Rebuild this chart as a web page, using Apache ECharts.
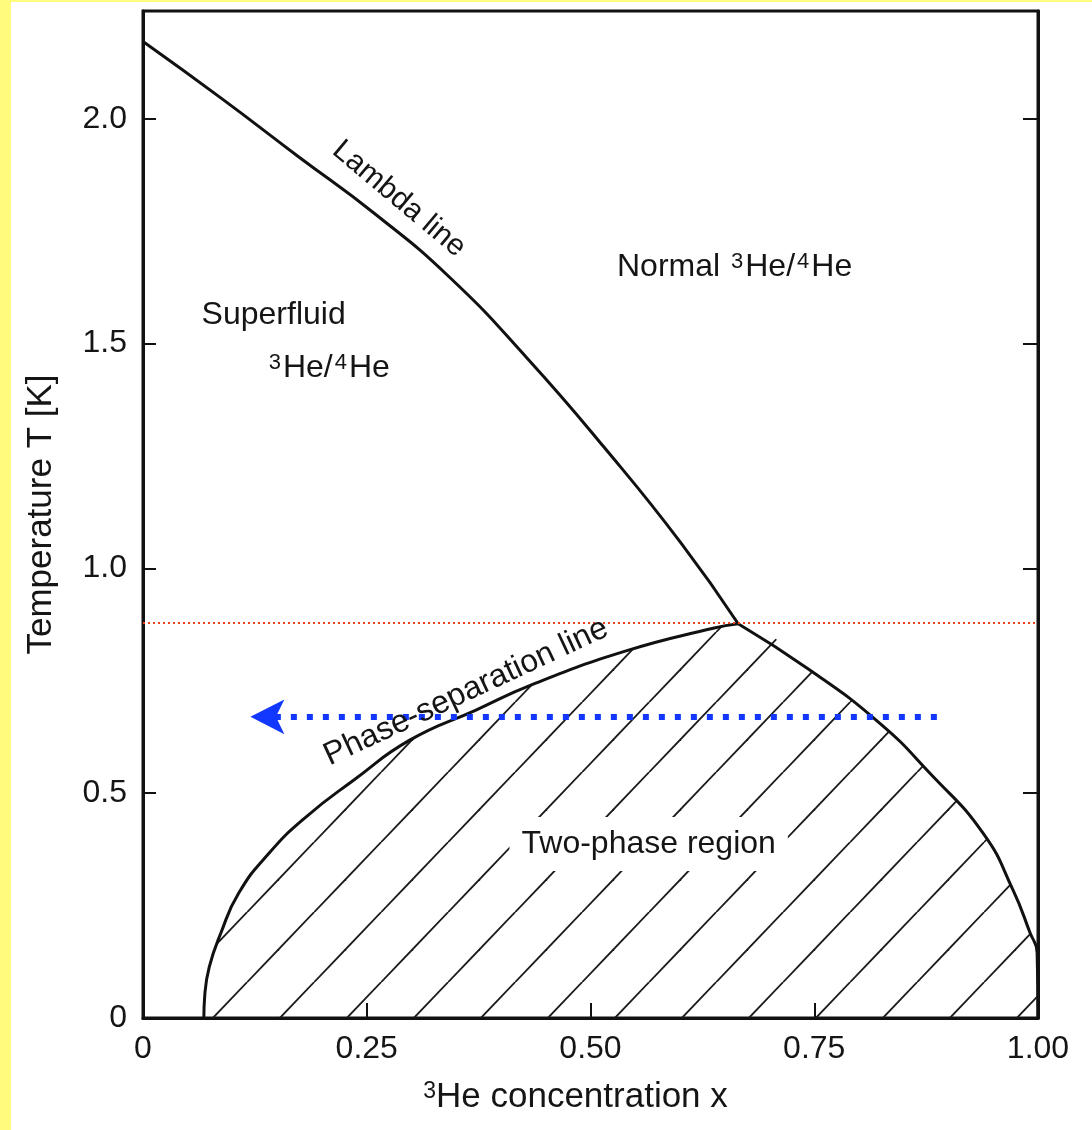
<!DOCTYPE html>
<html>
<head>
<meta charset="utf-8">
<script src="https://cdn.jsdelivr.net/npm/echarts@6/dist/echarts.min.js"></script>
<style>
html, body { margin: 0; padding: 0; width: 1092px; height: 1130px; overflow: hidden; background: #fffb7c; }
#chart { position: absolute; left: 11px; top: 2px; width: 1081px; height: 1128px; background: #fff; }
</style>
</head>
<body>
<div id="chart"></div>
<script>
// lambda line (x = 3He fraction, T in K)
const lambdaX = [0, 0.088, 0.173, 0.259, 0.344, 0.43, 0.515, 0.601, 0.665];
const lambdaT = [2.172, 2.045, 1.917, 1.789, 1.645, 1.466, 1.27, 1.057, 0.877];

// phase-separation line, dilute side and concentrated side
const sepLeftX = [0.068, 0.069, 0.074, 0.087, 0.107, 0.141, 0.182, 0.236, 0.298, 0.372, 0.434, 0.537, 0.637, 0.665];
const sepLeftT = [0, 0.05, 0.113, 0.189, 0.278, 0.367, 0.447, 0.53, 0.618, 0.685, 0.741, 0.815, 0.867, 0.877];
const sepRightX = [0.665, 0.745, 0.823, 0.879, 0.939, 0.972, 0.991, 0.999, 1.0];
const sepRightT = [0.877, 0.774, 0.656, 0.545, 0.41, 0.285, 0.19, 0.145, 0];

const xTickLabels = ['0', '0.25', '0.50', '0.75', '1.00'];
const yTickLabels = ['0', '0.5', '1.0', '1.5', '2.0'];

// annotations
const noteText = ['Lambda line', 'Normal {sup|3}He/{sup|4}He', 'Superfluid', '{sup|3}He/{sup|4}He', 'Phase-separation line', 'Two-phase region'];
const noteX = [0.286, 0.661, 0.146, 0.207, 0.361, 0.565];
const noteT = [1.822, 1.671, 1.564, 1.445, 0.725, 0.387];
const noteAngle = [-40, 0, 0, 0, 25, 0];

const tricriticalT = 0.877;      // red dotted line
const arrowT = 0.67;             // blue arrow
const arrowFromX = 0.887;
const arrowToX = 0.12;

const hatchStartX = 0.078;       // first hatch line meeting the x axis

const font = '"Liberation Sans", Arial, Helvetica, sans-serif';
const ink = '#111';
const textInk = '#151515';

const pairs = (xs, ys) => xs.map((x, i) => [x, ys[i]]);

function hatchPattern(offset) {
    const w = 67, h = 70;
    const c = document.createElement('canvas');
    c.width = w;
    c.height = h;
    const g = c.getContext('2d');
    g.strokeStyle = '#1a1a1a';
    g.lineWidth = 1.8;
    for (let k = -2; k <= 1; k++) {
        g.beginPath();
        g.moveTo(offset + k * w, h);
        g.lineTo(offset + (k + 1) * w, 0);
        g.stroke();
    }
    return { image: c, repeat: 'repeat' };
}

const chart = echarts.init(document.getElementById('chart'));

const option = {
    animation: false,
    backgroundColor: '#fff',
    grid: {
        left: 132, right: 54, top: 9, bottom: 112,
        show: true, borderColor: ink, borderWidth: 3, backgroundColor: 'transparent',
        outerBoundsMode: 'none'
    },
    xAxis: {
        type: 'value', min: 0, max: 1, interval: 0.25,
        name: '{sup|3}He concentration x',
        nameLocation: 'middle', nameGap: 62,
        nameTextStyle: {
            fontFamily: font, fontSize: 35, color: textInk, padding: [0, 30, 0, 0],
            rich: { sup: { fontSize: 23, verticalAlign: 'top', fontFamily: font, color: textInk } }
        },
        axisLine: { show: true, lineStyle: { color: ink, width: 3 } },
        axisTick: { show: true, inside: true, length: 15, lineStyle: { color: ink, width: 2 } },
        axisLabel: {
            margin: 15, fontFamily: font, fontSize: 32, color: textInk,
            formatter: v => xTickLabels[Math.round(v / 0.25)] ?? ''
        },
        splitLine: { show: false }
    },
    yAxis: [{
        type: 'value', min: 0, max: 2.24, interval: 0.5,
        name: 'Temperature T [K]',
        nameLocation: 'middle', nameGap: 84,
        nameTextStyle: { fontFamily: font, fontSize: 35, color: textInk },
        axisLine: { show: true, lineStyle: { color: ink, width: 3 } },
        axisTick: { show: true, inside: true, length: 13, lineStyle: { color: ink, width: 2 } },
        axisLabel: {
            margin: 16, fontFamily: font, fontSize: 32, color: textInk,
            formatter: v => (Math.abs(v / 0.5 - Math.round(v / 0.5)) < 1e-6 ? yTickLabels[Math.round(v / 0.5)] : '')
        },
        splitLine: { show: false }
    }, {
        type: 'value', min: 0, max: 2.24, interval: 0.5, position: 'right',
        axisLine: { show: true, lineStyle: { color: ink, width: 3 } },
        axisTick: { show: true, inside: true, length: 15, lineStyle: { color: ink, width: 2 } },
        axisLabel: { show: false },
        splitLine: { show: false }
    }],
    series: [
        {
            id: 'fill', type: 'line', silent: true, z: 1,
            data: pairs(sepLeftX.concat(sepRightX.slice(1)), sepLeftT.concat(sepRightT.slice(1))),
            showSymbol: false, smooth: 0.5,
            lineStyle: { width: 0, opacity: 0 },
            areaStyle: { color: 'transparent', opacity: 1 }
        },
        {
            type: 'line', silent: true, z: 3,
            data: pairs(lambdaX, lambdaT),
            showSymbol: false, smooth: 0.5,
            lineStyle: { color: ink, width: 3 }
        },
        {
            type: 'line', silent: true, z: 3,
            data: pairs(sepLeftX, sepLeftT),
            showSymbol: false, smooth: 0.5,
            lineStyle: { color: ink, width: 3 }
        },
        {
            type: 'line', silent: true, z: 3,
            data: pairs(sepRightX, sepRightT),
            showSymbol: false, smooth: 0.5,
            lineStyle: { color: ink, width: 3 }
        },
        {
            type: 'line', silent: true, z: 5, data: [],
            markLine: {
                silent: true, symbol: 'none', animation: false,
                label: { show: false },
                lineStyle: { color: '#f0401e', width: 2, type: [2, 3] },
                data: [{ yAxis: tricriticalT }]
            }
        },
        {
            type: 'line', silent: true, z: 6, data: [],
            markLine: {
                silent: true, animation: false,
                symbol: ['none', 'arrow'], symbolSize: [26, 34],
                label: { show: false },
                lineStyle: { color: '#1238ff', width: 6, type: [6, 10], cap: 'butt' },
                itemStyle: { color: '#1238ff' },
                data: [[{ coord: [arrowFromX, arrowT] }, { coord: [arrowToX, arrowT] }]]
            }
        }
    ]
};

chart.setOption(option);

// line up the hatching with the picture's hatch lines on the x axis
const p = chart.convertToPixel({ gridIndex: 0 }, [hatchStartX, 0]);
const w = 67, h = 70;
const offset = (((p[0] + w * p[1] / h) % w) + w) % w;

// annotations placed through the axes
const notes = noteText.map((t, i) => {
    const q = chart.convertToPixel({ gridIndex: 0 }, [noteX[i], noteT[i]]);
    const style = {
        text: t, x: 0, y: 0,
        fontFamily: font, fontSize: i === 0 ? 30 : 32, fill: textInk,
        align: 'center', verticalAlign: 'middle',
        rich: { sup: { fontSize: 22, verticalAlign: 'top', fontFamily: font, fill: textInk, padding: [0, 2, 0, 2] } }
    };
    if (i === 5) {
        style.backgroundColor = '#fff';
        style.padding = [11, 12];
    }
    return { type: 'text', x: q[0], y: q[1], rotation: noteAngle[i] * Math.PI / 180, z: 20, silent: true, style };
});

chart.setOption({
    series: [{ id: 'fill', areaStyle: { color: hatchPattern(offset), opacity: 1 } }],
    graphic: notes
});
</script>
</body>
</html>
